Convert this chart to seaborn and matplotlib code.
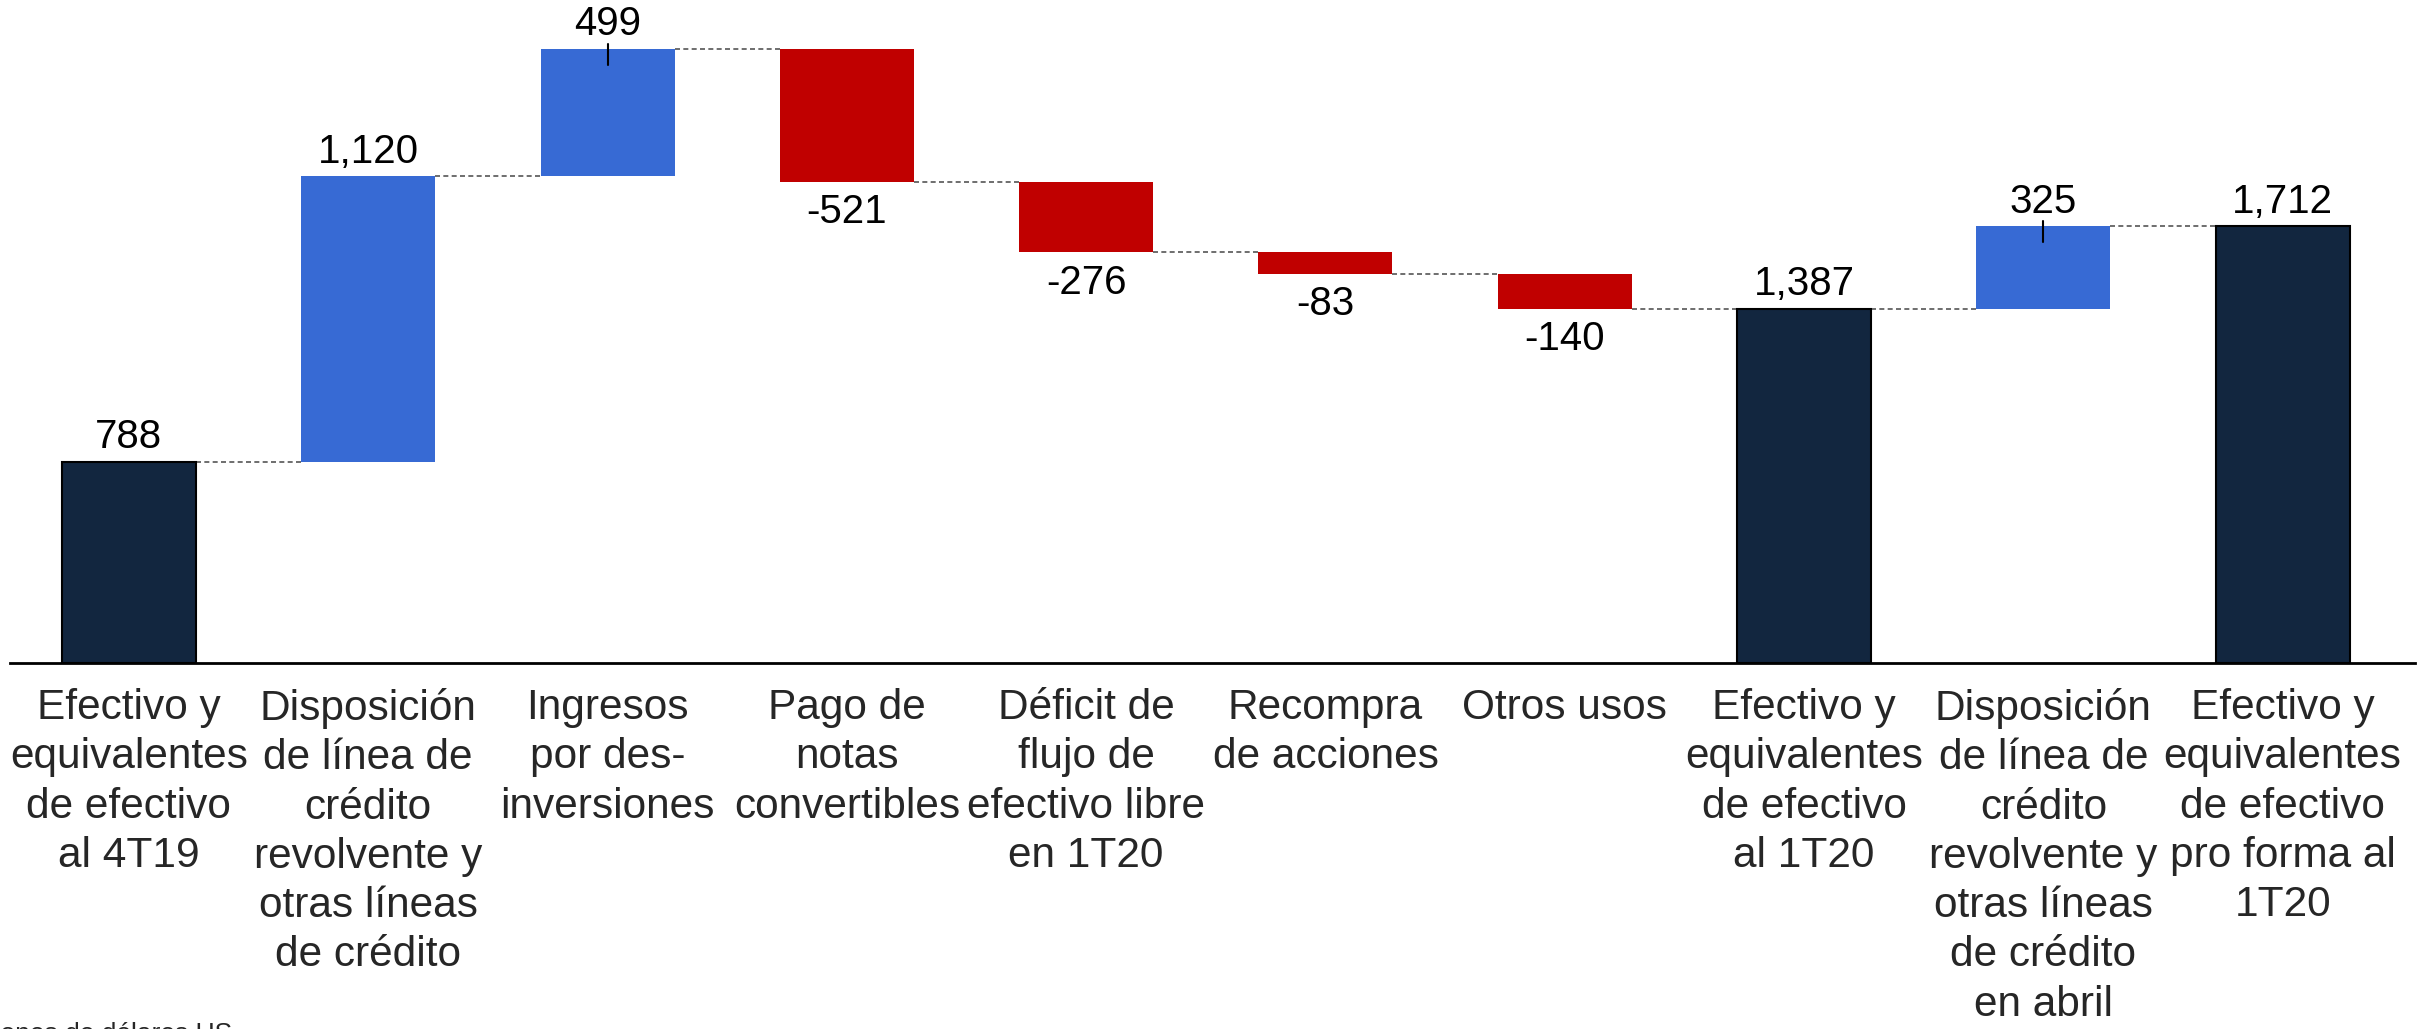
import matplotlib
matplotlib.use("Agg")
import matplotlib.pyplot as plt
import seaborn as sns
import numpy as np
import pandas as pd

# chart data
categories = [
    "Efectivo y\nequivalentes\nde efectivo\nal 4T19",
    "Disposición\nde línea de\ncrédito\nrevolvente y\notras líneas\nde crédito",
    "Ingresos\npor des-\ninversiones",
    "Pago de\nnotas\nconvertibles",
    "Déficit de\nflujo de\nefectivo libre\nen 1T20",
    "Recompra\nde acciones",
    "Otros usos",
    "Efectivo y\nequivalentes\nde efectivo\nal 1T20",
    "Disposición\nde línea de\ncrédito\nrevolvente y\notras líneas\nde crédito\nen abril",
    "Efectivo y\nequivalentes\nde efectivo\npro forma al\n1T20",
]
values = [788, 1120, 499, -521, -276, -83, -140, 1387, 325, 1712]
labels = ["788", "1,120", "499", "-521", "-276", "-83", "-140", "1,387", "325", "1,712"]
kinds = ["total", "up", "up", "down", "down", "down", "down", "total", "up", "total"]
marked = [False, False, True, False, False, False, False, False, True, False]
unit_note = "Millones de dólares US"

colors = {"total": "#12263F", "up": "#376AD4", "down": "#C00000"}

# running bottoms / tops
bottoms, tops = [], []
level = 0
for v, k in zip(values, kinds):
    if k == "total":
        bottoms.append(0)
        tops.append(v)
        level = v
    else:
        new = level + v
        bottoms.append(min(level, new))
        tops.append(max(level, new))
        level = new

df = pd.DataFrame({"cat": categories, "height": np.array(tops) - np.array(bottoms),
                   "kind": kinds})

sns.set_theme(style="white")
plt.rcParams["font.family"] = ["Liberation Sans", "DejaVu Sans"]

fig = plt.figure(figsize=(24.23, 10.29), dpi=100)
ax = fig.add_axes([10 / 2423, 1 - 663 / 1029, 2405 / 2423, 663 / 1029])

bw = 0.56
sns.barplot(data=df, x="cat", y="height", hue="kind", palette=colors,
            dodge=False, width=bw, legend=False, ax=ax, saturation=1)

# move floating bars to their bottoms
for p in ax.patches:
    i = int(round(p.get_x() + p.get_width() / 2))
    p.set_y(bottoms[i])
    if kinds[i] == "total":
        p.set_edgecolor("black")
        p.set_linewidth(1.5)
    else:
        p.set_linewidth(0)

# connectors
for i in range(len(values) - 1):
    lvl = tops[i] if kinds[i] != "down" else bottoms[i]
    ax.plot([i + bw / 2, i + 1 - bw / 2], [lvl, lvl], ls=(0, (3, 2)),
            color="#555555", lw=1.2, zorder=0)

# little marks on some bars
for i, m in enumerate(marked):
    if m:
        ax.plot([i, i], [tops[i] + 20, tops[i] - 62], color="black", lw=1.5)

# value labels
for i, (v, lab) in enumerate(zip(values, labels)):
    if v >= 0:
        ax.annotate(lab, (i, tops[i]), xytext=(0, 10), textcoords="offset points",
                    ha="center", va="baseline", fontsize=29, color="black")
    else:
        ax.annotate(lab, (i, bottoms[i]), xytext=(0, -8), textcoords="offset points",
                    ha="center", va="top", fontsize=29, color="black")

ax.set_xlim(-0.497, 9.553)
ax.set_ylim(0, 2600)
ax.set_yticks([])
ax.set_xlabel("")
ax.set_ylabel("")
ax.set_xticks(range(len(categories)))
ax.set_xticklabels(categories, fontsize=30.5, linespacing=1.3)
ax.tick_params(axis="x", length=0, pad=18)
for s in ["top", "left", "right"]:
    ax.spines[s].set_visible(False)
ax.spines["bottom"].set_color("black")
ax.spines["bottom"].set_linewidth(2)

fig.text(232 / 2423, 1 - 1022 / 1029, unit_note, ha="right", va="top", fontsize=19)

fig.savefig("out.png", dpi=100)
